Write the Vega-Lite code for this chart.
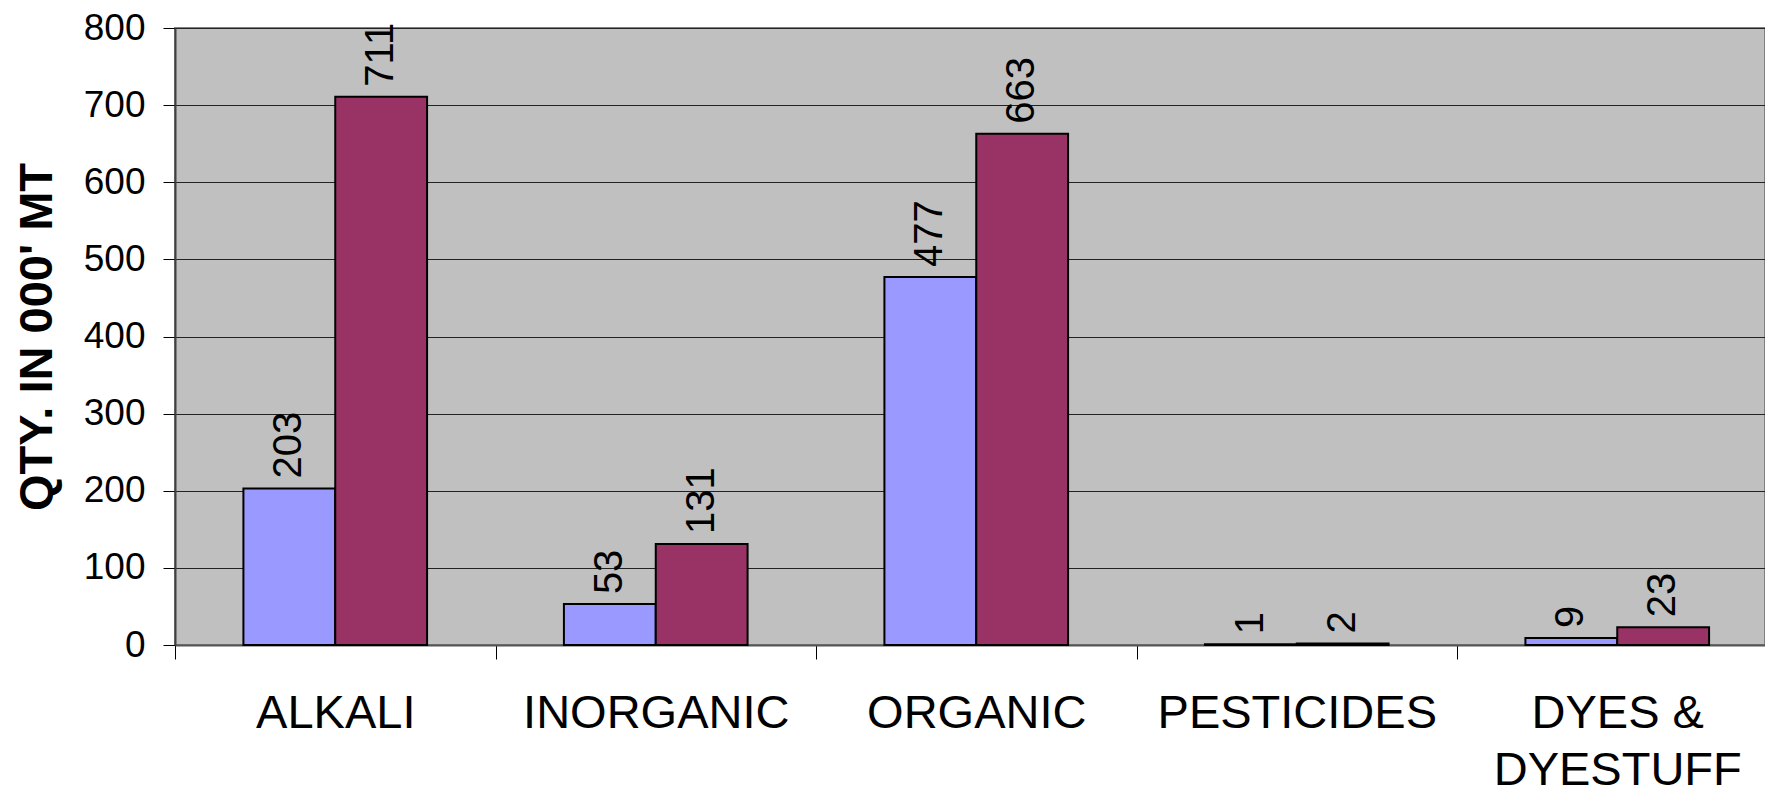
{
  "$schema": "https://vega.github.io/schema/vega-lite/v6.json",
  "autosize": {"type": "none"},
  "padding": {"left": 175, "top": 28, "right": 0, "bottom": 146},
  "width": 1590,
  "height": 617,
  "background": "white",
  "config": {
    "font": "Liberation Sans",
    "view": {"fill": "#C0C0C0", "stroke": "#808080", "strokeWidth": 2}
  },
  "data": {
    "values": [
      {"category": "ALKALI", "series": "Series1", "value": 203},
      {"category": "ALKALI", "series": "Series2", "value": 711},
      {"category": "INORGANIC", "series": "Series1", "value": 53},
      {"category": "INORGANIC", "series": "Series2", "value": 131},
      {"category": "ORGANIC", "series": "Series1", "value": 477},
      {"category": "ORGANIC", "series": "Series2", "value": 663},
      {"category": "PESTICIDES", "series": "Series1", "value": 1},
      {"category": "PESTICIDES", "series": "Series2", "value": 2},
      {"category": "DYES & DYESTUFF", "series": "Series1", "value": 9},
      {"category": "DYES & DYESTUFF", "series": "Series2", "value": 23}
    ]
  },
  "encoding": {
    "x": {
      "field": "category",
      "type": "nominal",
      "sort": ["ALKALI", "INORGANIC", "ORGANIC", "PESTICIDES", "DYES & DYESTUFF"],
      "scale": {"range": [0, 1602.5], "paddingInner": 0, "paddingOuter": 0},
      "axis": {
        "title": null,
        "labelAngle": 0,
        "tickBand": "extent",
        "tickSize": 14,
        "tickColor": "#000000",
        "tickWidth": 1,
        "domainColor": "#555555",
        "domainWidth": 2,
        "grid": false,
        "labelFontSize": 47,
        "labelColor": "#000000",
        "labelPadding": 31,
        "labelLineHeight": 57,
        "labelLimit": 0,
        "labelExpr": "datum.value == 'DYES & DYESTUFF' ? ['DYES &', 'DYESTUFF'] : datum.value"
      }
    },
    "xOffset": {
      "field": "series",
      "type": "nominal",
      "sort": ["Series1", "Series2"],
      "scale": {"paddingInner": 0, "paddingOuter": 0.745}
    },
    "y": {
      "field": "value",
      "type": "quantitative",
      "scale": {"domain": [0, 800], "nice": false},
      "axis": {
        "title": "QTY. IN 000' MT",
        "titleFontSize": 47,
        "titleFontWeight": "bold",
        "titleColor": "#000000",
        "titlePadding": 22,
        "values": [0, 100, 200, 300, 400, 500, 600, 700, 800],
        "labelFontSize": 37,
        "labelColor": "#000000",
        "labelPadding": 18,
        "tickSize": 12,
        "tickColor": "#000000",
        "domainColor": "#404040",
        "domainWidth": 2,
        "grid": true,
        "gridColor": "#222222",
        "gridWidth": 1
      }
    }
  },
  "layer": [
    {
      "mark": {"type": "bar", "stroke": "#000000", "strokeWidth": 2},
      "encoding": {
        "color": {
          "field": "series",
          "type": "nominal",
          "scale": {"domain": ["Series1", "Series2"], "range": ["#9999FF", "#993366"]},
          "legend": null
        }
      }
    },
    {
      "mark": {"type": "text", "angle": 270, "align": "left", "baseline": "middle", "dx": 10, "fontSize": 40, "color": "#000000"},
      "encoding": {
        "text": {"field": "value", "type": "quantitative"}
      }
    }
  ]
}
